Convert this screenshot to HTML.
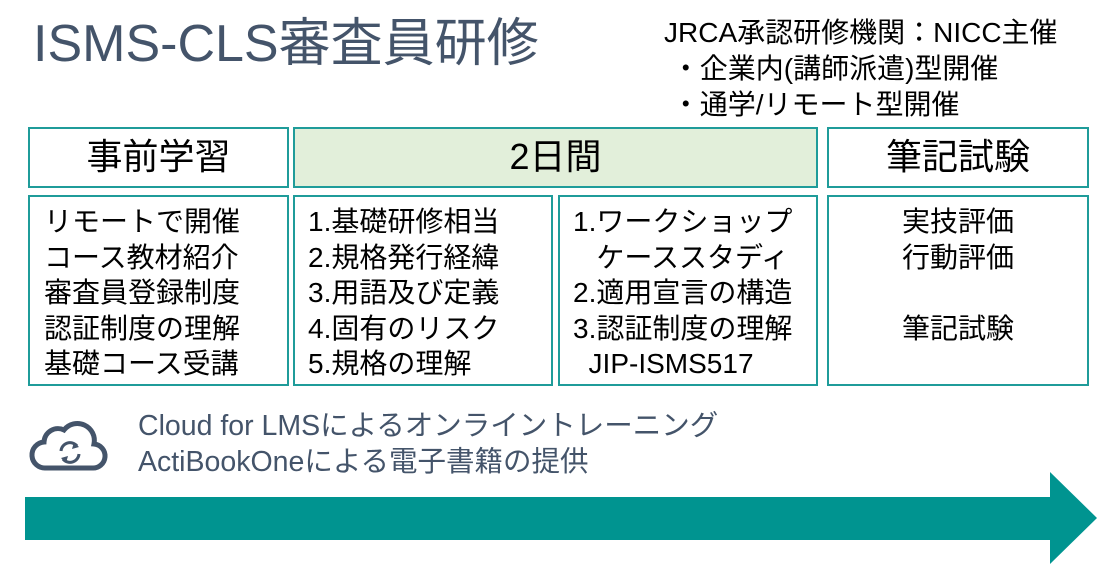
<!DOCTYPE html>
<html><head><meta charset="utf-8"><style>
body{margin:0;width:1097px;height:564px;background:#fff;position:relative;overflow:hidden;font-family:"Liberation Sans","Noto Sans CJK JP",sans-serif;color:#000}
.a{position:absolute}
.box{position:absolute;border:2px solid #1f9c9a;box-sizing:border-box}
.h{font-size:36px;text-align:center;line-height:56px}
.t{font-size:28px;line-height:35.5px;padding-top:7px;white-space:nowrap}
</style></head><body>
<div class="a" style="left:33px;top:12px;font-size:52px;color:#44546a;white-space:nowrap;line-height:64px">ISMS-CLS審査員研修</div>
<div class="a" style="left:664px;top:15px;font-size:28px;line-height:36px;white-space:nowrap">JRCA承認研修機関：NICC主催<br>&nbsp;・企業内(講師派遣)型開催<br>&nbsp;・通学/リモート型開催</div>

<div class="box h" style="left:28px;top:127px;width:261px;height:61px">事前学習</div>
<div class="box h" style="left:293px;top:127px;width:525px;height:61px;background:#e2efda">2日間</div>
<div class="box h" style="left:827px;top:127px;width:262px;height:61px">筆記試験</div>

<div class="box t" style="left:28px;top:195px;width:261px;height:191px;padding-left:14px">リモートで開催<br>コース教材紹介<br>審査員登録制度<br>認証制度の理解<br>基礎コース受講</div>
<div class="box t" style="left:293px;top:195px;width:260px;height:191px;padding-left:13px">1.基礎研修相当<br>2.規格発行経緯<br>3.用語及び定義<br>4.固有のリスク<br>5.規格の理解</div>
<div class="box t" style="left:558px;top:195px;width:260px;height:191px;padding-left:13px">1.ワークショップ<br>&nbsp;&nbsp;&nbsp;ケーススタディ<br>2.適用宣言の構造<br>3.認証制度の理解<br>&nbsp;&nbsp;JIP-ISMS517</div>
<div class="box t" style="left:827px;top:195px;width:262px;height:191px;text-align:center">実技評価<br>行動評価<br><br>筆記試験</div>

<svg class="a" style="left:28px;top:418px" width="80" height="56" viewBox="0 0 80 56">
<path d="M18 50 H64 A12 12 0 0 0 66 26 A17 17 0 0 0 36 12 A14 14 0 0 0 16 24 A13 13 0 0 0 18 50 Z" fill="none" stroke="#44546a" stroke-width="5"/>
<path d="M33 33 A9 9 0 0 1 49 28" fill="none" stroke="#44546a" stroke-width="3"/>
<path d="M51 36 A9 9 0 0 1 35 41" fill="none" stroke="#44546a" stroke-width="3"/>
<path d="M46 24 L51 29 L44 31 Z M38 45 L33 40 L40 38 Z" fill="#44546a"/>
</svg>
<div class="a" style="left:138px;top:408px;font-size:28.5px;line-height:36px;color:#44546a;white-space:nowrap">Cloud for LMSによるオンライントレーニング<br>ActiBookOneによる電子書籍の提供</div>

<svg class="a" style="left:0;top:0" width="1097" height="564">
<polygon points="25,497 1050,497 1050,472 1097,518 1050,564 1050,540 25,540" fill="#009490"/>
</svg>
</body></html>
